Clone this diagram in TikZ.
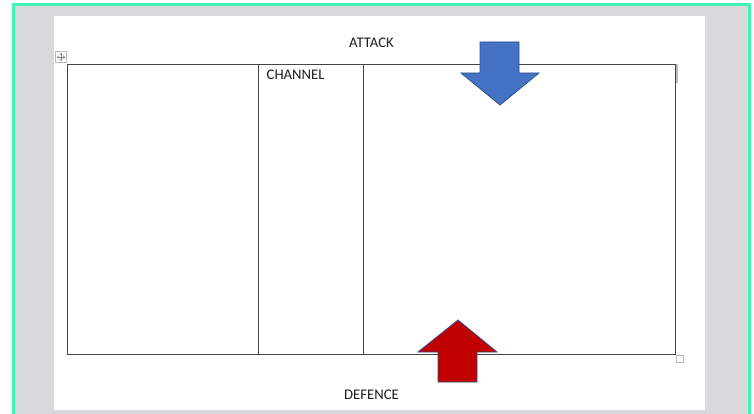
\documentclass[tikz,border=0pt]{standalone}
\usepackage{fontspec}
\setmainfont{Carlito}
\definecolor{mint}{RGB}{64,245,180}
\definecolor{pagegray}{RGB}{217,217,220}
\definecolor{gridline}{RGB}{68,68,68}
\definecolor{arrowblue}{RGB}{68,114,196}
\definecolor{arrowedge}{RGB}{47,82,143}
\definecolor{arrowred}{RGB}{192,0,0}
\definecolor{txt}{RGB}{30,30,30}
\definecolor{handle}{RGB}{185,185,185}
\tikzset{
  lbl/.style={inner sep=0pt, font=\fontsize{14.7}{17}\selectfont, text=txt},
  gridln/.style={draw=gridline, line width=0.9pt},
  blockarrow/.style={draw=arrowedge, line width=0.8pt, line join=miter},
}
\begin{document}
\begin{tikzpicture}[x=1pt,y=-1pt]
\useasboundingbox (0,0) rectangle (754,414);
\fill[white] (0,0) rectangle (754,414);
% window frame
\fill[mint] (12,3) rectangle (751,414);
\fill[pagegray] (15,6) rectangle (748,414);
\fill[white] (54,16) rectangle (705,410);
% move handle
\draw[handle, line width=0.6pt, fill=white] (55.5,51.5) rectangle (66.5,62.5);
\draw[gray, line width=0.6pt] (57.5,57) -- (64.5,57) (61,53.5) -- (61,60.5);
\draw[gray, line width=0.6pt] (58.8,55.8) -- (57.5,57) -- (58.8,58.2) (63.2,55.8) -- (64.5,57) -- (63.2,58.2)
  (59.8,54.8) -- (61,53.5) -- (62.2,54.8) (59.8,59.2) -- (61,60.5) -- (62.2,59.2);
% table
\draw[gridln] (67,64) rectangle (675.5,354);
\draw[gridln] (258.5,64) -- (258.5,354);
\draw[gridln] (363.5,64) -- (363.5,354);
\fill[handle] (675.8,64) rectangle (677.8,83);
\draw[handle, line width=0.6pt, fill=white] (676.5,355.5) rectangle (683.5,362.5);
% texts
\node[lbl] (attack) at (371.5,42.5) {ATTACK};
\node[lbl] (defence) at (371.5,394.5) {DEFENCE};
\node[lbl, anchor=base west] (channel) at (266.5,79.5) {CHANNEL};
% block arrows
\draw[blockarrow, fill=arrowblue] (480,42) -- (519,42) -- (519,73) -- (539,73) -- (500,105) -- (461,73) -- (480,73) -- cycle;
\draw[blockarrow, fill=arrowred] (458,320) -- (497,352) -- (477,352) -- (477,382) -- (438,382) -- (438,352) -- (418,352) -- cycle;
\end{tikzpicture}
\end{document}
